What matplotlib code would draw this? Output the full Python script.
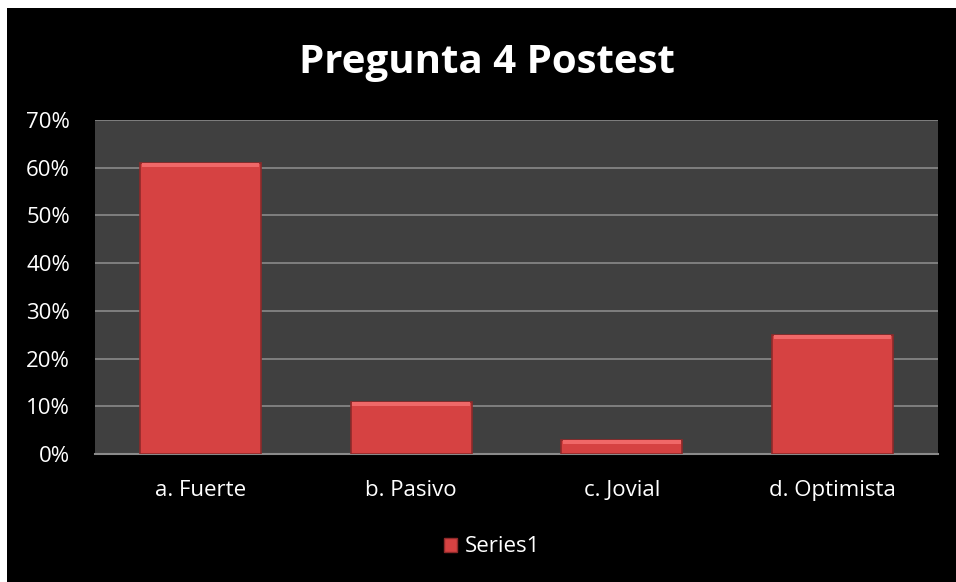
import matplotlib.pyplot as plt
import matplotlib.patches as mpatches
import numpy as np

categories = ['a. Fuerte', 'b. Pasivo', 'c. Jovial', 'd. Optimista']
values = [0.61, 0.11, 0.03, 0.25]
yticks = [0, 0.1, 0.2, 0.3, 0.4, 0.5, 0.6, 0.7]
ytick_labels = ['0%', '10%', '20%', '30%', '40%', '50%', '60%', '70%']

plt.rcParams['font.family'] = ['Open Sans', 'DejaVu Sans']

fig = plt.figure(figsize=(9.56, 5.82), dpi=100, facecolor='white')
# black chart area, white strip on top and left
fig.patches.append(mpatches.Rectangle((7 / 956, 0), 1, 1 - 8 / 582, transform=fig.transFigure,
                                      facecolor='black', edgecolor='none', zorder=-5))

ax = fig.add_axes([95 / 956, 1 - 454 / 582, (938 - 95) / 956, (454 - 120) / 582])
ax.set_facecolor('#404040')

x = np.arange(len(categories))
w = 0.575
ax.bar(x, values, width=w, color='#D64242', edgecolor='#8E2A2A', linewidth=1.2, zorder=3)
# bevel highlight at the top of each bar
hl = [min(v, 0.009) for v in values]
ax.bar(x, hl, bottom=[v - h for v, h in zip(values, hl)], width=w * 0.97,
       color='#F06868', edgecolor='none', zorder=4)

ax.set_xlim(-0.5, len(categories) - 0.5)
ax.set_ylim(0, 0.7)
ax.set_yticks(yticks)
ax.set_yticklabels(ytick_labels)
ax.set_xticks(x)
ax.set_xticklabels(categories)
ax.grid(axis='y', color='#8A8A8A', linewidth=1.2, zorder=1)
ax.tick_params(colors='white', labelsize=16, length=0, pad=19)
ax.tick_params(axis='y', pad=18)
for s in ax.spines.values():
    s.set_visible(False)
ax.spines['bottom'].set_visible(True)
ax.spines['bottom'].set_color('#8A8A8A')
ax.spines['bottom'].set_linewidth(1.5)

fig.text(487 / 956, 1 - 62 / 582, 'Pregunta 4 Postest', color='white', fontsize=29,
         fontweight='bold', ha='center', va='center')

handle = mpatches.Patch(facecolor='#D64242', edgecolor='#8E2A2A', label='Series1')
fig.legend(handles=[handle], loc='center', bbox_to_anchor=(492 / 956, 1 - 547 / 582),
           frameon=False, labelcolor='white', fontsize=16, handlelength=0.6,
           handleheight=0.6, handletextpad=0.35)

fig.savefig('out.png', dpi=100, facecolor=fig.get_facecolor())
